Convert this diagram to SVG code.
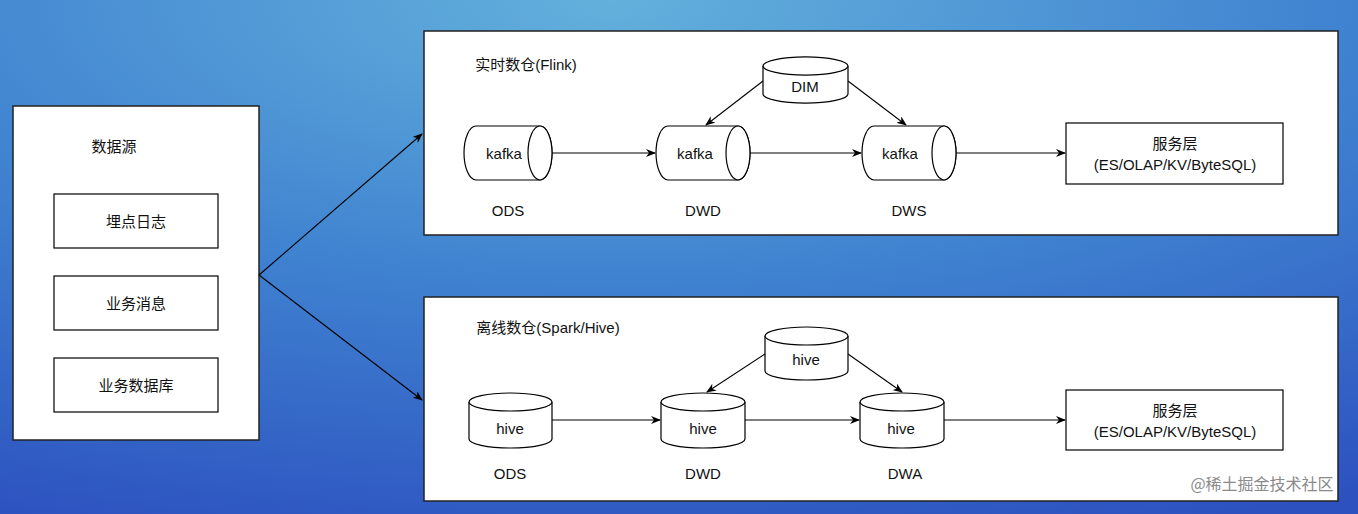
<svg xmlns="http://www.w3.org/2000/svg" width="1358" height="514" viewBox="0 0 1358 514">
<defs>
<radialGradient id="bg" cx="0.45" cy="0" r="1.1">
<stop offset="0" stop-color="#63b0dc"/><stop offset="0.5" stop-color="#3f82d0"/><stop offset="1" stop-color="#2d52c0"/>
</radialGradient>
<marker id="ah" markerWidth="10" markerHeight="8" refX="9" refY="4" orient="auto" markerUnits="userSpaceOnUse"><path d="M0,0 L10,4 L0,8 L3,4 Z" fill="#000"/></marker>
<style>
.t{font-family:"Liberation Sans","Noto Sans CJK SC",sans-serif;font-size:15px;fill:#111;text-anchor:middle;dominant-baseline:central}
.s{fill:#fff;stroke:#000;stroke-width:1.2}
.p{fill:#fff;stroke:#222;stroke-width:1.5}
.c{fill:none;stroke:#000;stroke-width:1.1;marker-end:url(#ah)}
</style>
</defs>
<rect width="1358" height="514" fill="url(#bg)"/>
<g id="source">
<rect class="p" x="13" y="106" width="246" height="334"/>
<text class="t" x="114" y="146">数据源</text>
<rect class="s" x="54" y="194" width="164" height="54"/><text class="t" x="136" y="221">埋点日志</text>
<rect class="s" x="54" y="276" width="164" height="54"/><text class="t" x="136" y="303">业务消息</text>
<rect class="s" x="54" y="358" width="164" height="54"/><text class="t" x="136" y="385">业务数据库</text>
</g>
<g id="realtime">
<rect class="p" x="424" y="31" width="914" height="204"/>
<text class="t" x="526" y="64">实时数仓(Flink)</text>
</g>
<g id="rt-ods"><path class="s" d="M476,126 H540 A12,27 0 0 1 540,180 H476 A12,27 0 0 1 476,126 Z"/><ellipse class="s" cx="540" cy="153" rx="12" ry="27"/><text class="t" x="504" y="153">kafka</text><text class="t" x="508" y="210">ODS</text></g>
<g id="rt-dwd"><path class="s" d="M668,126 H738 A12,27 0 0 1 738,180 H668 A12,27 0 0 1 668,126 Z"/><ellipse class="s" cx="738" cy="153" rx="12" ry="27"/><text class="t" x="695" y="153">kafka</text><text class="t" x="703" y="210">DWD</text></g>
<g id="rt-dws"><path class="s" d="M874,126 H944 A12,27 0 0 1 944,180 H874 A12,27 0 0 1 874,126 Z"/><ellipse class="s" cx="944" cy="153" rx="12" ry="27"/><text class="t" x="900" y="153">kafka</text><text class="t" x="909" y="210">DWS</text></g>
<g id="rt-dim"><path class="s" d="M763,66 A42,9 0 0 1 848,66 V94 A42,9 0 0 1 763,94 Z"/><path class="s" fill="none" d="M763,66 A42,9 0 0 0 848,66"/><text class="t" x="805" y="86">DIM</text></g>
<g id="rt-svc"><rect class="s" x="1066" y="123" width="217" height="61"/><text class="t" x="1175" y="143">服务层</text><text class="t" x="1175" y="164">(ES/OLAP/KV/ByteSQL)</text></g>
<g id="offline">
<rect class="p" x="424" y="297" width="914" height="204"/>
<text class="t" x="548" y="327">离线数仓(Spark/Hive)</text>
</g>
<g id="off-ods"><path class="s" d="M469,402 A41.5,9 0 0 1 552,402 V439 A41.5,9 0 0 1 469,439 Z"/><path class="s" d="M469,402 A41.5,9 0 0 0 552,402"/><text class="t" x="510" y="428">hive</text><text class="t" x="510" y="473">ODS</text></g>
<g id="off-dwd"><path class="s" d="M661,402 A42,9 0 0 1 745,402 V439 A42,9 0 0 1 661,439 Z"/><path class="s" d="M661,402 A42,9 0 0 0 745,402"/><text class="t" x="703" y="428">hive</text><text class="t" x="703" y="473">DWD</text></g>
<g id="off-dwa"><path class="s" d="M860,402 A42,9 0 0 1 944,402 V439 A42,9 0 0 1 860,439 Z"/><path class="s" d="M860,402 A42,9 0 0 0 944,402"/><text class="t" x="901" y="428">hive</text><text class="t" x="905" y="473">DWA</text></g>
<g id="off-dim"><path class="s" d="M765,336 A41.5,9 0 0 1 848,336 V371 A41.5,9 0 0 1 765,371 Z"/><path class="s" d="M765,336 A41.5,9 0 0 0 848,336"/><text class="t" x="806" y="359">hive</text></g>
<g id="off-svc"><rect class="s" x="1066" y="390" width="217" height="60"/><text class="t" x="1175" y="410">服务层</text><text class="t" x="1175" y="431">(ES/OLAP/KV/ByteSQL)</text></g>
<g id="connectors">
<path class="c" d="M259,275 L422,134"/>
<path class="c" d="M259,275 L422,400"/>
<path class="c" d="M552,153 L655,153"/>
<path class="c" d="M750,153 L861,153"/>
<path class="c" d="M956,153 L1065,153"/>
<path class="c" d="M763,81 L706,125"/>
<path class="c" d="M848,81 L906,125"/>
<path class="c" d="M552,420 L660,420"/>
<path class="c" d="M745,420 L859,420"/>
<path class="c" d="M944,420 L1065,420"/>
<path class="c" d="M765,354 L707,392"/>
<path class="c" d="M848,354 L902,392"/>
</g>
<text x="1262" y="490" style="font-family:'Noto Sans CJK SC',sans-serif;font-size:16px;fill:#8a8a8a;text-anchor:middle">@稀土掘金技术社区</text>
</svg>
